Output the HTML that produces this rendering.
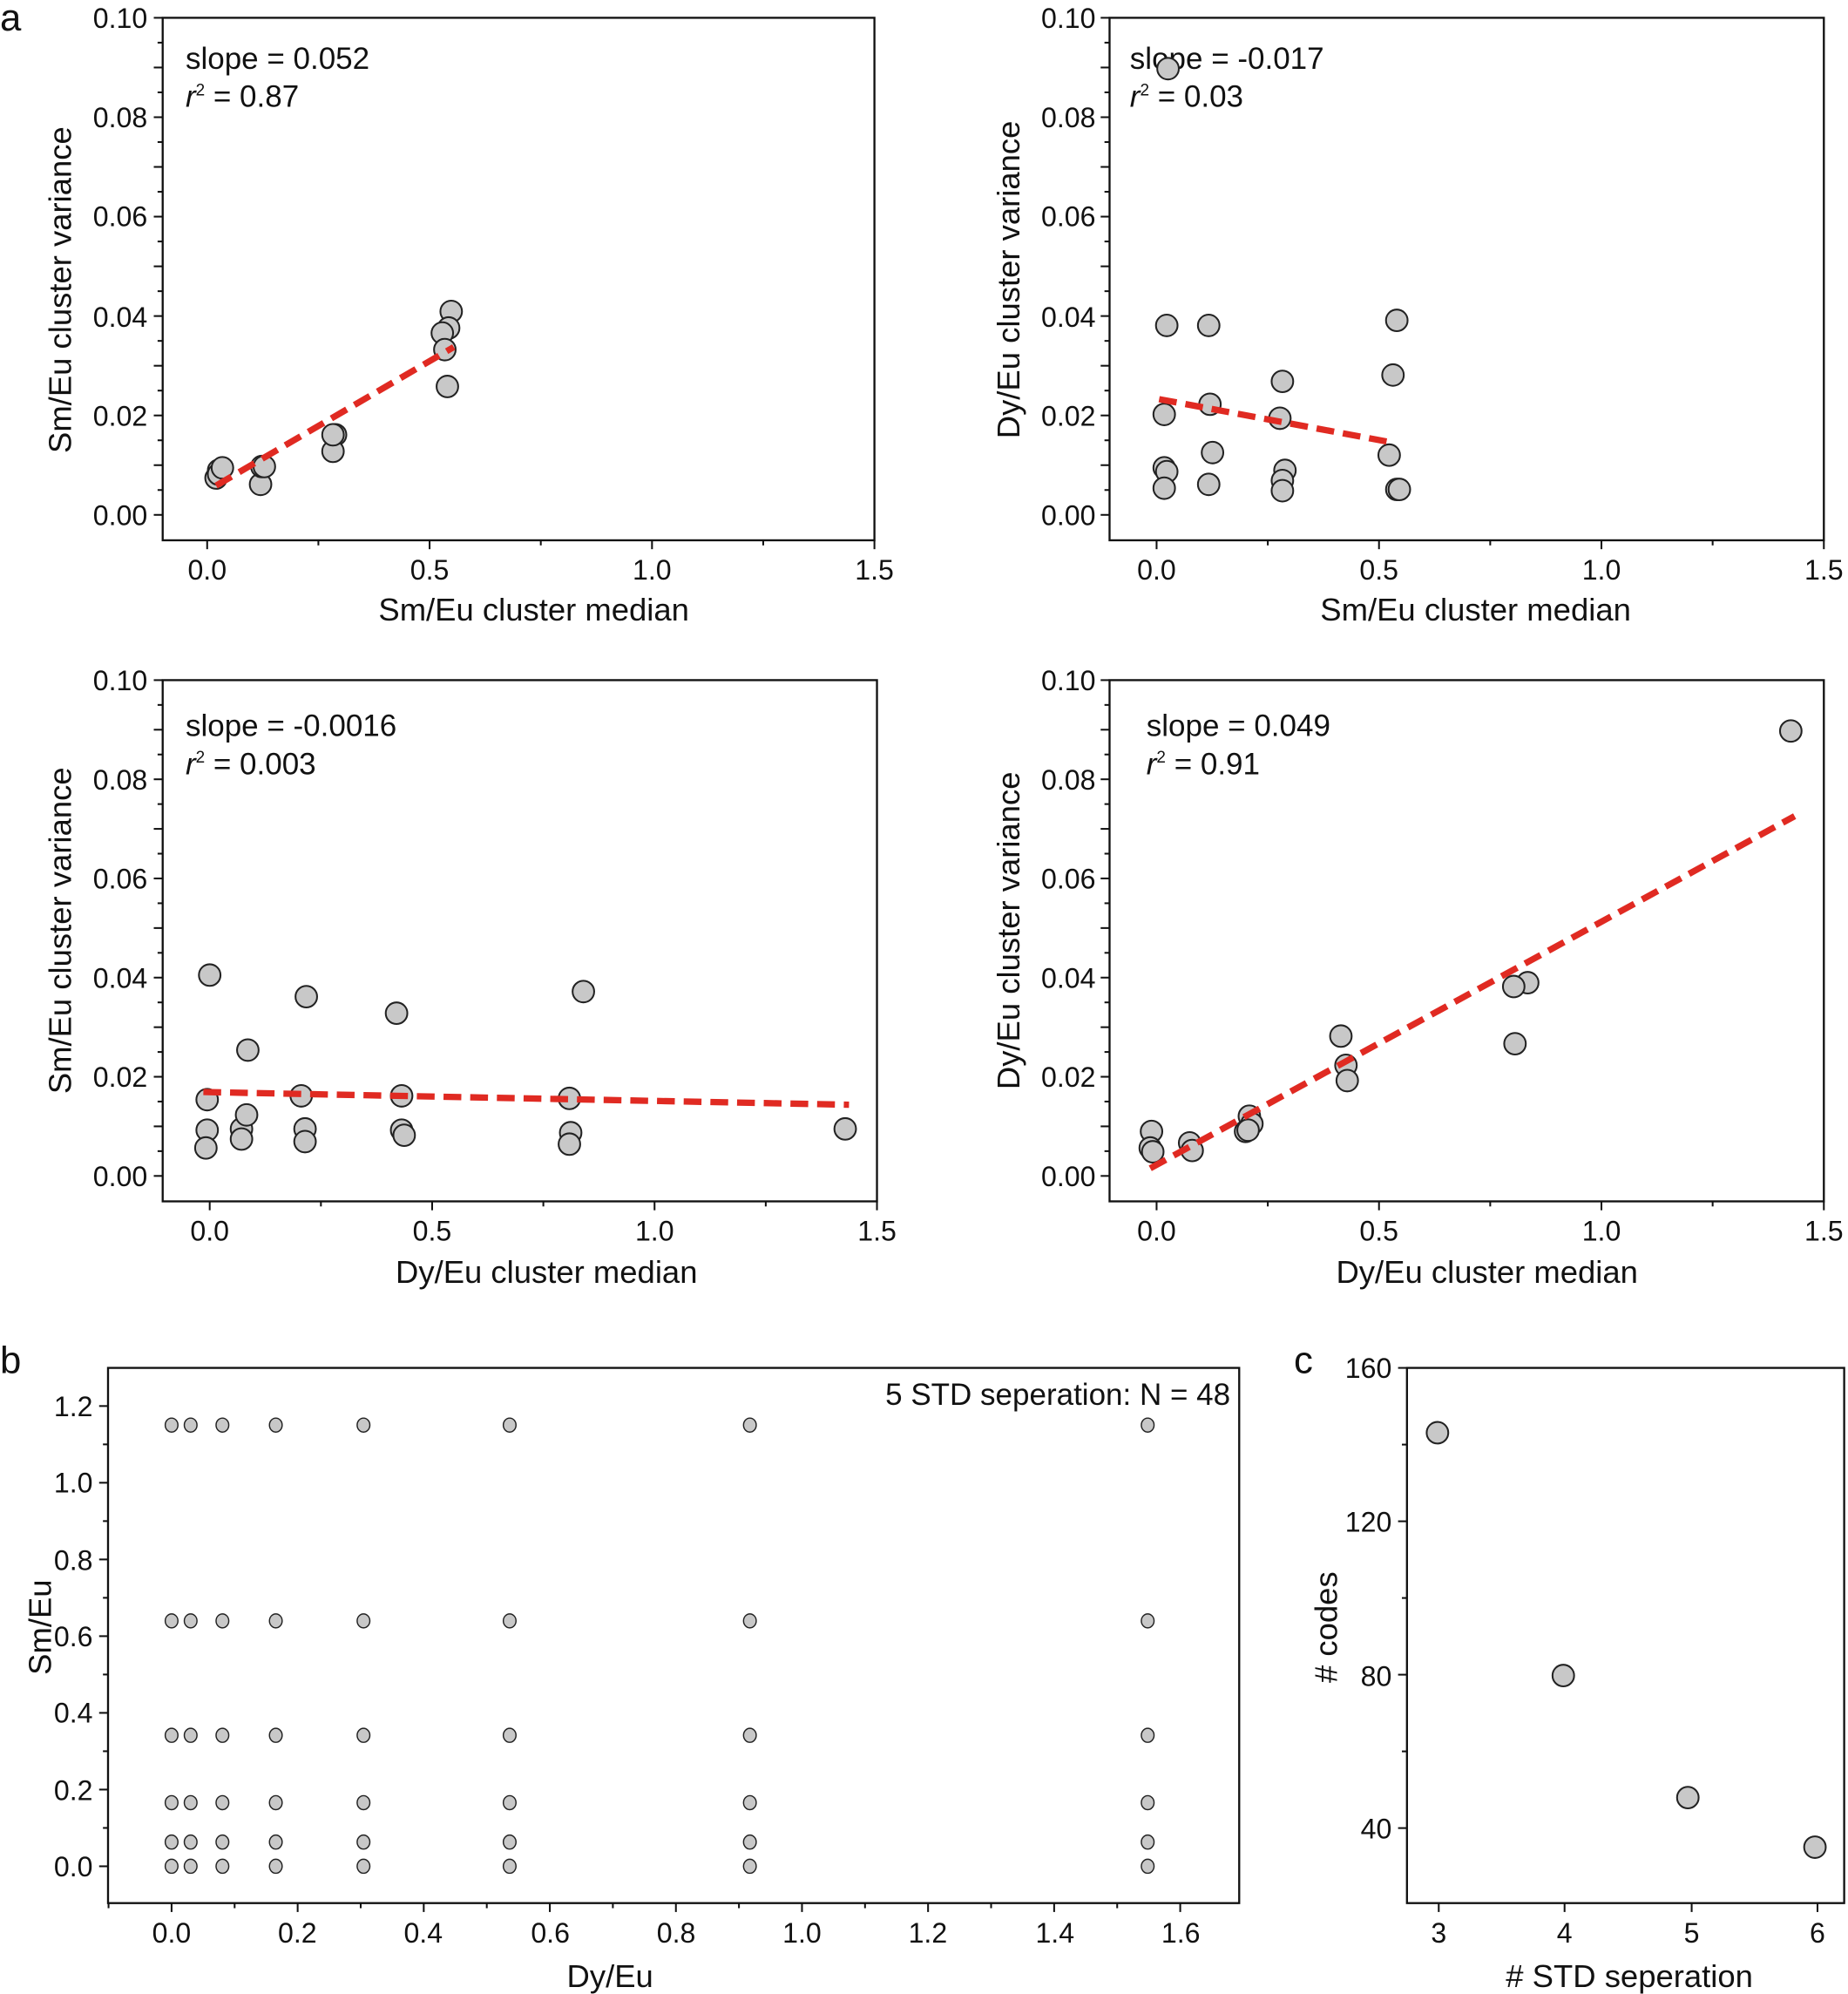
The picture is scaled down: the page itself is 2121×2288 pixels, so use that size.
<!DOCTYPE html>
<html><head><meta charset="utf-8"><style>
html,body{margin:0;padding:0;background:#fff}
svg{display:block}
text{font-family:"Liberation Sans",Arial,sans-serif;fill:#111}
</style></head><body>
<svg id="s" width="2121" height="2288" viewBox="0 0 1454 1568.5" preserveAspectRatio="none" xmlns="http://www.w3.org/2000/svg">
<g font-size="30"><text x="0" y="24">a</text><text x="0" y="1080">b</text><text x="1018" y="1080">c</text></g>
<g fill="none" stroke="#111" stroke-width="1.6">
<rect x="128" y="14" width="560" height="411"/>
<rect x="873" y="14" width="562" height="411"/>
<rect x="128" y="535" width="562" height="410"/>
<rect x="873" y="535" width="562" height="410"/>
<rect x="85" y="1076" width="890" height="421"/>
<rect x="1107" y="1076" width="344" height="421"/>
</g>
<g id="ticks" stroke="#111" stroke-width="1.4"></g>
<g font-size="22" text-anchor="end">
<text x="116" y="22">0.10</text><text x="116" y="100">0.08</text><text x="116" y="178">0.06</text><text x="116" y="257">0.04</text><text x="116" y="335">0.02</text><text x="116" y="413">0.00</text>
<text x="862" y="22">0.10</text><text x="862" y="100">0.08</text><text x="862" y="178">0.06</text><text x="862" y="257">0.04</text><text x="862" y="335">0.02</text><text x="862" y="413">0.00</text>
<text x="116" y="543">0.10</text><text x="116" y="621">0.08</text><text x="116" y="699">0.06</text><text x="116" y="777">0.04</text><text x="116" y="855">0.02</text><text x="116" y="933">0.00</text>
<text x="862" y="543">0.10</text><text x="862" y="621">0.08</text><text x="862" y="699">0.06</text><text x="862" y="777">0.04</text><text x="862" y="855">0.02</text><text x="862" y="933">0.00</text>
<text x="73" y="1114">1.2</text><text x="73" y="1174">1.0</text><text x="73" y="1235">0.8</text><text x="73" y="1295">0.6</text><text x="73" y="1355">0.4</text><text x="73" y="1416">0.2</text><text x="73" y="1476">0.0</text>
<text x="1095" y="1084">160</text><text x="1095" y="1205">120</text><text x="1095" y="1326">80</text><text x="1095" y="1446">40</text>
</g>
<g font-size="22" text-anchor="middle">
<text x="163" y="456">0.0</text><text x="338" y="456">0.5</text><text x="513" y="456">1.0</text><text x="688" y="456">1.5</text>
<text x="910" y="456">0.0</text><text x="1085" y="456">0.5</text><text x="1260" y="456">1.0</text><text x="1435" y="456">1.5</text>
<text x="165" y="976">0.0</text><text x="340" y="976">0.5</text><text x="515" y="976">1.0</text><text x="690" y="976">1.5</text>
<text x="910" y="976">0.0</text><text x="1085" y="976">0.5</text><text x="1260" y="976">1.0</text><text x="1435" y="976">1.5</text>
<text x="135" y="1528">0.0</text><text x="234" y="1528">0.2</text><text x="333" y="1528">0.4</text><text x="433" y="1528">0.6</text><text x="532" y="1528">0.8</text><text x="631" y="1528">1.0</text><text x="730" y="1528">1.2</text><text x="830" y="1528">1.4</text><text x="929" y="1528">1.6</text>
<text x="1132" y="1528">3</text><text x="1231" y="1528">4</text><text x="1331" y="1528">5</text><text x="1430" y="1528">6</text>
</g>
<g font-size="25" text-anchor="middle">
<text x="420" y="488">Sm/Eu cluster median</text>
<text x="1161" y="488">Sm/Eu cluster median</text>
<text x="430" y="1009">Dy/Eu cluster median</text>
<text x="1170" y="1009">Dy/Eu cluster median</text>
<text x="480" y="1563">Dy/Eu</text>
<text x="1282" y="1563">#&#160;STD seperation</text>
<text transform="translate(56,228) rotate(-90)">Sm/Eu cluster variance</text>
<text transform="translate(802,220) rotate(-90)">Dy/Eu cluster variance</text>
<text transform="translate(56,732) rotate(-90)">Sm/Eu cluster variance</text>
<text transform="translate(802,732) rotate(-90)">Dy/Eu cluster variance</text>
<text transform="translate(40,1280) rotate(-90)">Sm/Eu</text>
<text transform="translate(1052,1280) rotate(-90)"># codes</text>
</g>
<g font-size="24">
<text x="146" y="54">slope = 0.052</text><text x="146" y="84"><tspan font-style="italic">r</tspan><tspan font-size="13" dy="-9">2</tspan><tspan dy="9"> = 0.87</tspan></text>
<text x="889" y="54">slope = -0.017</text><text x="889" y="84"><tspan font-style="italic">r</tspan><tspan font-size="13" dy="-9">2</tspan><tspan dy="9"> = 0.03</tspan></text>
<text x="146" y="579">slope = -0.0016</text><text x="146" y="609"><tspan font-style="italic">r</tspan><tspan font-size="13" dy="-9">2</tspan><tspan dy="9"> = 0.003</tspan></text>
<text x="902" y="579">slope = 0.049</text><text x="902" y="609"><tspan font-style="italic">r</tspan><tspan font-size="13" dy="-9">2</tspan><tspan dy="9"> = 0.91</tspan></text>
<text x="968" y="1105" text-anchor="end">5 STD seperation: N = 48</text>
</g>
<g id="pts" fill="#c8c8c8" stroke="#222" stroke-width="1.4"></g>
<g stroke="#e02a22" stroke-width="5" stroke-dasharray="14,7" fill="none">
<line x1="170" y1="382" x2="357" y2="273"/>
<line x1="912" y1="314" x2="1095" y2="348"/>
<line x1="160" y1="859" x2="668" y2="869"/>
<line x1="905" y1="919" x2="1412" y2="642"/>
</g>
</svg>
<script>
var NS="http://www.w3.org/2000/svg";
function el(p,n,a){var e=document.createElementNS(NS,n);for(var k in a)e.setAttribute(k,a[k]);p.appendChild(e);}
var P=document.getElementById("pts"),T=document.getElementById("ticks");
function c(arr,r){for(var i=0;i<arr.length;i+=2)el(P,"circle",{cx:arr[i],cy:arr[i+1],r:r});}
c([172,370,170,376,172,373,175,368,205,381,206,367,208,367,264,342,262,355,262,342,355,245,353,258,348,262,350,275,352,304],8.5);
c([919,54,918,256,951,256,916,326,952,318,916,368,918,371,954,356,916,384,951,381,1009,300,1007,329,1011,370,1009,378,1009,386,1099,252,1096,295,1093,358,1099,385,1101,385],8.5);
c([165,767,241,784,312,797,459,780,195,826,163,865,237,862,316,862,448,864,163,889,190,888,194,877,240,888,316,889,449,891,162,903,190,896,240,898,318,893,448,900,665,888],8.5);
c([1409,575,1202,773,1191,776,1192,821,1055,815,1059,838,1060,850,906,890,905,903,907,906,936,899,938,905,983,878,985,884,980,890,982,889],8.5);
c([1131,1127,1230,1318,1328,1414,1428,1453],8.5);
var bx=[135,150,175,217,286,401,590,903],by=[1121,1275,1365,1418,1449,1468];
bx.forEach(function(x){by.forEach(function(y){el(P,"ellipse",{cx:x,cy:y,rx:5,ry:5.5,"stroke-width":1})});});
function yt(x,y0,step,n,minor){for(var i=0;i<n;i++){var y=y0+i*step;el(T,"line",{x1:x-(i%2==0||!minor?7:4),y1:y,x2:x,y2:y});}}
function xt(y,x0,step,n){for(var i=0;i<n;i++){var x=x0+i*step;el(T,"line",{x1:x,y1:y,x2:x,y2:y+(i%2==0?7:4)});}}
yt(128,14,19.55,21,1);yt(873,14,19.55,21,1);yt(128,535,19.5,21,1);yt(873,535,19.5,21,1);
xt(425,163,87.5,7);xt(425,910,87.5,7);xt(945,165,87.5,7);xt(945,910,87.5,7);
yt(85,1106,30.17,13,1);yt(1107,1076,60.33,7,1);
for(var i=-2;i<=17;i++){var x=135+i*49.6;if(x>=85&&x<=975)el(T,"line",{x1:x,y1:1497,x2:x,y2:1497+(i%2==0?7:4)});}
[1132,1231,1331,1430].forEach(function(x){el(T,"line",{x1:x,y1:1497,x2:x,y2:1504});});
</script>
</body></html>
